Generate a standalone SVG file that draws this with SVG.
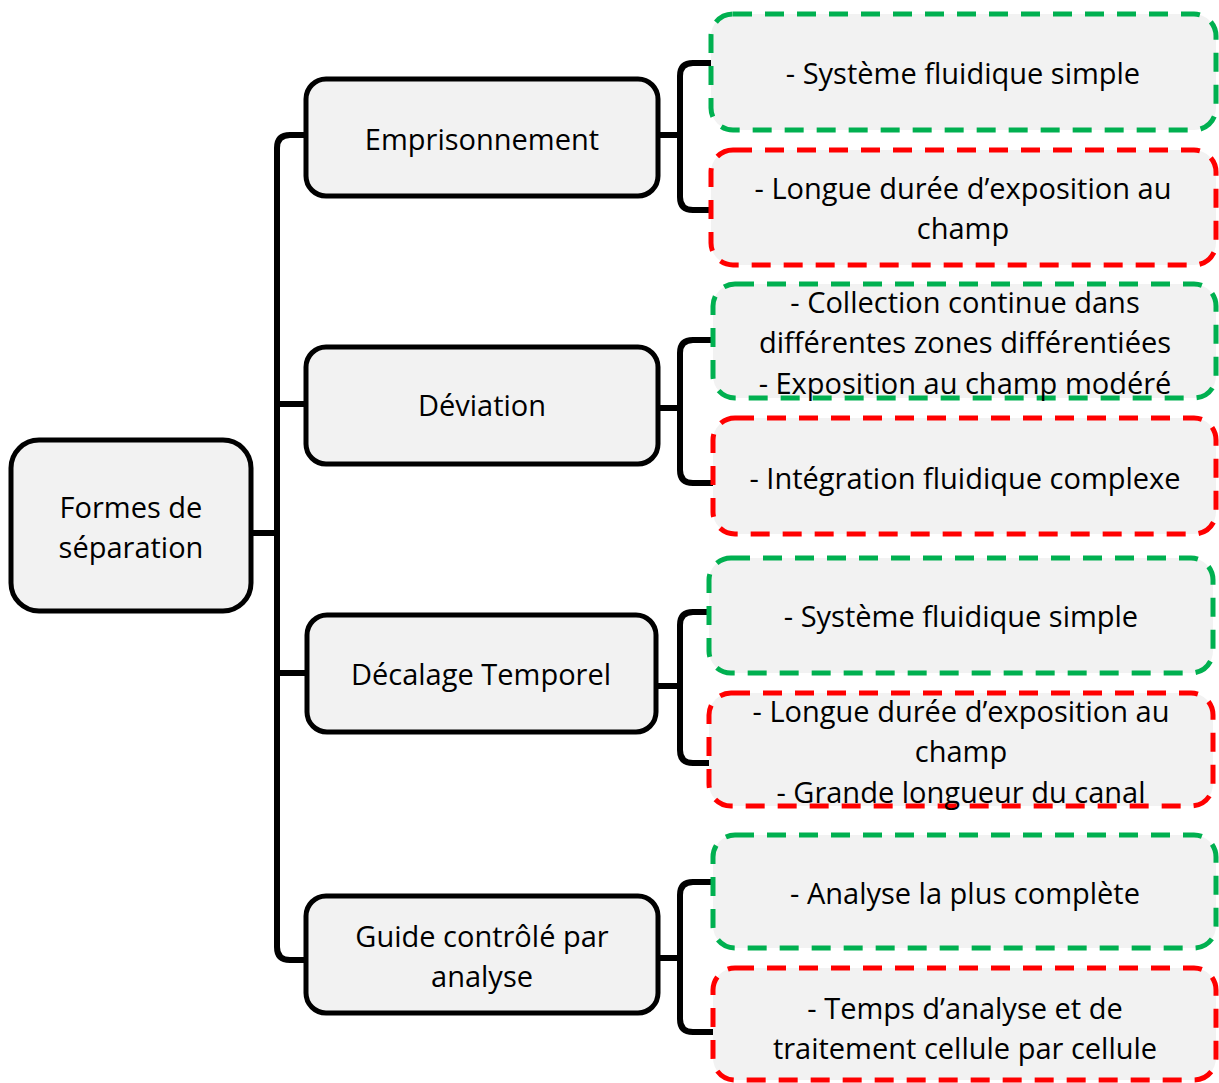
<svg xmlns="http://www.w3.org/2000/svg" width="1219" height="1083" viewBox="0 0 1219 1083">
<style>
.node{fill:#f2f2f2;stroke:#000;stroke-width:5}
.pro{fill:#f2f2f2;stroke:#00b050;stroke-width:5;stroke-dasharray:19 13}
.con{fill:#f2f2f2;stroke:#ff0000;stroke-width:5;stroke-dasharray:19 13}
.t{font-family:"Open Sans","Liberation Sans",sans-serif;font-size:29px;fill:#000;text-anchor:middle;dominant-baseline:central}
.link{fill:none;stroke:#000;stroke-width:6}
</style>
<rect width="1219" height="1083" fill="#fff"/>
<g id="connectors">
<path class="link" d="M305 135 H290 Q277 135 277 148 V947 Q277 960 290 960 H305"/>
<path class="link" d="M250 533 H277 M277 404 H305 M277 673 H307"/>
<path class="link" d="M658 135 H680 M711 63 H693 Q680 63 680 76 V197 Q680 210 693 210 H711"/>
<path class="link" d="M658 408 H680 M713 340 H693 Q680 340 680 353 V470 Q680 483 693 483 H713"/>
<path class="link" d="M656 686 H680 M709 612 H693 Q680 612 680 625 V750 Q680 763 693 763 H709"/>
<path class="link" d="M658 958 H680 M713 882 H693 Q680 882 680 895 V1019 Q680 1032 693 1032 H713"/>
</g>
<g id="root"><rect class="node" x="11" y="440" width="240" height="171" rx="28"/><text class="t" x="131" y="506">Formes de</text><text class="t" x="131" y="546">séparation</text></g>
<g id="emprisonnement"><rect class="node" x="306" y="79" width="352" height="117" rx="20"/><text class="t" x="482" y="138">Emprisonnement</text></g>
<g id="deviation"><rect class="node" x="306" y="347" width="352" height="117" rx="20"/><text class="t" x="482" y="404">Déviation</text></g>
<g id="decalage"><rect class="node" x="307" y="615" width="349" height="117" rx="20"/><text class="t" x="481" y="673">Décalage Temporel</text></g>
<g id="guide"><rect class="node" x="306" y="896" width="352" height="117" rx="20"/><text class="t" x="482" y="935">Guide contrôlé par</text><text class="t" x="482" y="975">analyse</text></g>
<g id="emp-pro"><rect class="pro" x="711" y="14" width="505" height="116" rx="22"/><text class="t" x="963" y="72">- Système fluidique simple</text></g>
<g id="emp-con"><rect class="con" x="711" y="150" width="505" height="115" rx="22"/><text class="t" x="963" y="187">- Longue durée d’exposition au</text><text class="t" x="963" y="227">champ</text></g>
<g id="dev-pro"><rect class="pro" x="713" y="284" width="503" height="114" rx="22"/><text class="t" x="965" y="301">- Collection continue dans</text><text class="t" x="965" y="341">différentes zones différentiées</text><text class="t" x="965" y="382">- Exposition au champ modéré</text></g>
<g id="dev-con"><rect class="con" x="713" y="418" width="503" height="116" rx="22"/><text class="t" x="965" y="477">- Intégration fluidique complexe</text></g>
<g id="dec-pro"><rect class="pro" x="709" y="558" width="504" height="115" rx="22"/><text class="t" x="961" y="615">- Système fluidique simple</text></g>
<g id="dec-con"><rect class="con" x="709" y="693" width="504" height="113" rx="22"/><text class="t" x="961" y="710">- Longue durée d’exposition au</text><text class="t" x="961" y="750">champ</text><text class="t" x="961" y="791">- Grande longueur du canal</text></g>
<g id="gui-pro"><rect class="pro" x="713" y="835" width="503" height="113" rx="22"/><text class="t" x="965" y="892">- Analyse la plus complète</text></g>
<g id="gui-con"><rect class="con" x="713" y="968" width="503" height="112" rx="22"/><text class="t" x="965" y="1007">- Temps d’analyse et de</text><text class="t" x="965" y="1047">traitement cellule par cellule</text></g>
</svg>
